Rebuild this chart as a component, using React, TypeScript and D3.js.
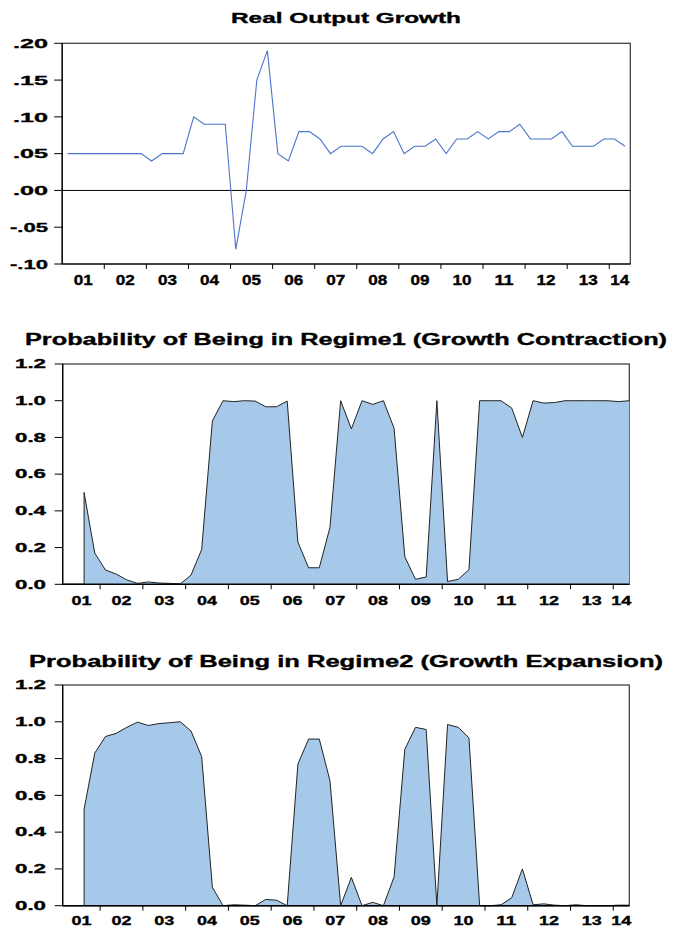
import React from "react";
import * as d3 from "d3";

// quarterly sample 2001Q1 - 2014Q2
const yearLabels = ["01", "02", "03", "04", "05", "06", "07", "08", "09", "10", "11", "12", "13", "14"];

const growth = [
  0.05, 0.05, 0.05, 0.05, 0.05, 0.05, 0.05, 0.05, 0.04, 0.05, 0.05, 0.05,
  0.1, 0.09, 0.09, 0.09, -0.08, 0.0, 0.15, 0.19, 0.05, 0.04, 0.08, 0.08,
  0.07, 0.05, 0.06, 0.06, 0.06, 0.05, 0.07, 0.08, 0.05, 0.06, 0.06, 0.07,
  0.05, 0.07, 0.07, 0.08, 0.07, 0.08, 0.08, 0.09, 0.07, 0.07, 0.07, 0.08,
  0.06, 0.06, 0.06, 0.07, 0.07, 0.06,
];

// smoothed probabilities start at 2001Q3 (two lags lost)
const probStart = 2;

const regime1 = [
  0.5, 0.17, 0.078, 0.056, 0.024, 0.005, 0.013, 0.007, 0.005, 0.002,
  0.05, 0.19, 0.89, 1.0, 0.995, 1.0, 0.998, 0.967, 0.967, 0.998,
  0.23, 0.09, 0.09, 0.31, 1.0, 0.846, 1.0, 0.98, 1.0, 0.85,
  0.15, 0.027, 0.04, 1.0, 0.015, 0.027, 0.08, 1.0, 1.0, 1.0,
  0.96, 0.8, 1.0, 0.987, 0.99, 1.0, 1.0, 1.0, 1.0, 1.0, 0.995, 1.0,
];

const regime2 = [
  0.524, 0.83, 0.92, 0.937, 0.97, 0.998, 0.98, 0.99, 0.995, 1.0,
  0.95, 0.81, 0.1, 0.0, 0.005, 0.003, 0.0, 0.034, 0.03, 0.0,
  0.77, 0.906, 0.906, 0.68, 0.0, 0.154, 0.0, 0.018, 0.0, 0.157,
  0.85, 0.97, 0.958, 0.0, 0.985, 0.97, 0.913, 0.0, 0.0, 0.005,
  0.043, 0.2, 0.005, 0.01, 0.003, 0.0, 0.005, 0.0, 0.0, 0.0, 0.003, 0.003,
];

const growthTicks = [0.2, 0.15, 0.1, 0.05, 0.0, -0.05, -0.1];
const probTicks = [1.2, 1.0, 0.8, 0.6, 0.4, 0.2, 0.0];

const font = "'Liberation Sans', Arial, sans-serif";
const nObs = growth.length;

// heavier looking bold text, like the EViews export
const txt = { fontFamily: font, fontWeight: "bold" as const, stroke: "#000", strokeWidth: 0.35, lengthAdjust: "spacingAndGlyphs" };

const GrowthPanel = () => {
  const left = 62.2,
    right = 630.3,
    top = 43.3,
    bottom = 264;
  const x = d3.scaleLinear().domain([0, nObs]).range([left, right]);
  const y = d3.scaleLinear().domain([-0.1, 0.2]).range([bottom, top]);
  const line = d3
    .line<number>()
    .x((d, i) => x(i + 0.5))
    .y((d) => y(d));
  const fmt = (v: number) => d3.format(".2f")(v).replace("0.", ".").replace("−", "-");

  return (
    <g>
      <text x={346} y={22.7} textAnchor="middle" fontSize={15} textLength={230} {...txt}>
        Real Output Growth
      </text>
      <rect x={left} y={top} width={right - left} height={bottom - top} fill="none" stroke="#444" strokeWidth={1.3} />
      <line x1={left} x2={left} y1={top} y2={bottom} stroke="#000" strokeWidth={1.2} />
      <line x1={left} x2={right} y1={bottom} y2={bottom} stroke="#000" strokeWidth={1.2} />
      <line x1={left} x2={right} y1={y(0)} y2={y(0)} stroke="#000" strokeWidth={1} />
      {growthTicks.map((t) => (
        <g key={t}>
          <line x1={left - 8} x2={left} y1={y(t)} y2={y(t)} stroke="#000" strokeWidth={1} />
          <text x={48} y={y(t) + 4.8} textAnchor="end" fontSize={13.5} textLength={t < 0 ? 38 : 35} {...txt}>
            {fmt(t)}
          </text>
        </g>
      ))}
      {yearLabels.map((lab, k) => {
        const a = Math.max(0, 4 * k),
          b = Math.min(nObs, 4 * k + 4);
        return (
          <g key={lab}>
            {k > 0 && <line x1={x(4 * k)} x2={x(4 * k)} y1={bottom} y2={bottom + 5} stroke="#000" strokeWidth={1} />}
            <text x={x((a + b) / 2)} y={284.5} textAnchor="middle" fontSize={14} textLength={19} {...txt}>
              {lab}
            </text>
          </g>
        );
      })}
      <path d={line(growth) || ""} fill="none" stroke="#4a74c9" strokeWidth={1.1} />
    </g>
  );
};

const ProbPanel = ({ title, titleWidth, values, top, bottom, titleY, labelY }: any) => {
  const left = 62.7,
    right = 629.3;
  const last = nObs - 1;
  const x = d3.scaleLinear().domain([0, last]).range([left, right]);
  const y = d3.scaleLinear().domain([0, 1.2]).range([bottom, top]);
  const area = d3
    .area<number>()
    .x((d, i) => x(i + probStart))
    .y0(y(0))
    .y1((d) => y(d));
  const outline = d3
    .line<number>()
    .x((d, i) => x(i + probStart))
    .y((d) => y(d));

  return (
    <g>
      <text x={346} y={titleY} textAnchor="middle" fontSize={16} textLength={titleWidth} {...txt}>
        {title}
      </text>
      <rect x={left} y={top} width={right - left} height={bottom - top} fill="none" stroke="#444" strokeWidth={1.3} />
      <path d={area(values) || ""} fill="#a7c9e9" stroke="none" />
      <line x1={x(probStart)} x2={x(probStart)} y1={y(0)} y2={y(values[0])} stroke="#222" strokeWidth={1} />
      <path d={outline(values) || ""} fill="none" stroke="#222" strokeWidth={1} />
      <line x1={left} x2={left} y1={top} y2={bottom} stroke="#000" strokeWidth={1.2} />
      <line x1={left} x2={right} y1={bottom} y2={bottom} stroke="#000" strokeWidth={1.6} />
      {probTicks.map((t) => (
        <g key={t}>
          <line x1={left - 8} x2={left} y1={y(t)} y2={y(t)} stroke="#000" strokeWidth={1} />
          <text x={46} y={y(t) + 4.3} textAnchor="end" fontSize={12.5} textLength={31} {...txt}>
            {d3.format(".1f")(t)}
          </text>
        </g>
      ))}
      {yearLabels.map((lab, k) => {
        const a = Math.max(0, 4 * k - 0.5),
          b = Math.min(last, 4 * k + 3.5);
        return (
          <g key={lab}>
            {k > 0 && <line x1={x(4 * k - 0.5)} x2={x(4 * k - 0.5)} y1={bottom} y2={bottom + 5} stroke="#000" strokeWidth={1} />}
            <text x={x((a + b) / 2)} y={labelY} textAnchor="middle" fontSize={13} textLength={20} {...txt}>
              {lab}
            </text>
          </g>
        );
      })}
    </g>
  );
};

const App = () => {
  return (
    <svg width={673} height={929} style={{ position: "absolute", left: 0, top: 0, background: "#fff" }}>
      <rect x={0} y={0} width={673} height={929} fill="#fff" />
      <GrowthPanel />
      <ProbPanel
        title="Probability of Being in Regime1 (Growth Contraction)"
        titleWidth={642}
        values={regime1}
        top={364}
        bottom={584.3}
        titleY={345}
        labelY={604.5}
      />
      <ProbPanel
        title="Probability of Being in Regime2 (Growth Expansion)"
        titleWidth={634}
        values={regime2}
        top={685}
        bottom={905.7}
        titleY={666.7}
        labelY={925}
      />
    </svg>
  );
};

export default App;
